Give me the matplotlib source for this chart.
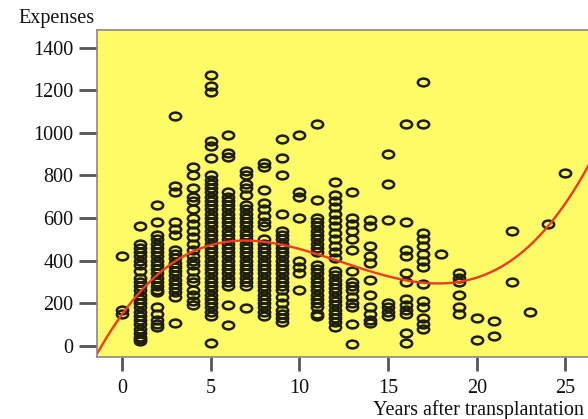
import numpy as np
import matplotlib
matplotlib.use("Agg")
import matplotlib.pyplot as plt
from matplotlib.markers import MarkerStyle
from matplotlib.transforms import Affine2D

# Expenses per year after transplantation
expenses_by_year = {
    0: [420, 170, 150],
    1: [560, 480, 460, 440, 420, 400, 380, 350, 320, 300, 280, 260, 240, 220, 200,
        180, 160, 140, 120, 100, 80, 60, 40, 30, 20],
    2: [660, 580, 520, 500, 480, 460, 440, 420, 400, 380, 360, 340, 320, 300, 280,
        260, 250, 180, 150, 120, 100, 90],
    3: [1080, 750, 720, 580, 550, 520, 450, 430, 410, 390, 370, 350, 330, 310, 290,
        270, 250, 230, 105],
    4: [840, 800, 740, 700, 680, 640, 600, 570, 540, 510, 480, 450, 420, 400, 380,
        350, 320, 300, 260, 240, 210, 190],
    5: [1270, 1220, 1190, 960, 940, 880, 800, 780, 760, 740, 720, 700, 680, 660, 640,
        620, 600, 580, 560, 540, 520, 500, 480, 460, 440, 420, 400, 380, 360, 340,
        320, 300, 280, 260, 240, 220, 200, 180, 160, 140, 15],
    6: [990, 905, 885, 720, 700, 680, 660, 640, 620, 600, 580, 560, 540, 520, 500,
        480, 460, 440, 420, 400, 380, 360, 340, 320, 300, 280, 190, 95],
    7: [820, 800, 760, 740, 710, 660, 640, 620, 600, 580, 560, 540, 520, 500, 480,
        460, 440, 420, 400, 380, 360, 340, 320, 300, 280, 175],
    8: [860, 840, 730, 670, 640, 610, 580, 560, 500, 480, 460, 440, 420, 400, 380,
        360, 340, 320, 300, 280, 260, 240, 220, 200, 180, 160, 140],
    9: [970, 880, 800, 620, 540, 520, 500, 480, 460, 440, 420, 400, 380, 360, 340,
        320, 300, 280, 260, 230, 200, 170, 150, 130, 110],
    10: [990, 720, 700, 600, 400, 370, 340, 260],
    11: [1040, 685, 600, 580, 560, 540, 520, 500, 480, 460, 440, 380, 360, 340, 320,
         300, 280, 260, 240, 220, 200, 180, 150, 140],
    12: [770, 710, 680, 650, 620, 590, 560, 530, 500, 470, 440, 410, 350, 330, 310,
         290, 270, 250, 230, 210, 190, 170, 150, 130, 110, 90],
    13: [720, 600, 570, 540, 500, 450, 350, 300, 280, 260, 230, 200, 180, 100, 10],
    14: [590, 560, 470, 420, 390, 310, 240, 180, 150, 120, 105],
    15: [900, 760, 590, 200, 180, 160, 140],
    16: [1040, 580, 450, 420, 340, 300, 220, 190, 170, 150, 60, 15],
    17: [1240, 1040, 530, 500, 470, 430, 400, 370, 290, 210, 180, 130, 100, 80],
    18: [430],
    19: [340, 320, 300, 240, 180, 150],
    20: [130, 25],
    21: [115, 45],
    22: [540, 300],
    23: [160],
    24: [570],
    25: [810],
}

# Points along the red fitted curve
curve_x = [-1.4, 0.1, 1.0, 2.4, 4.25, 5.9, 7.5, 9.0, 10.9, 12.6, 16.2, 17.0, 18.0, 19.1, 21.0, 24.0, 26.34]
curve_y = [-44, 160, 262, 356, 450, 482, 496, 473, 430, 388, 318, 294, 294, 294, 343, 572, 849]

x_ticks = [0, 5, 10, 15, 20, 25]
y_ticks = [0, 200, 400, 600, 800, 1000, 1200, 1400]

years = np.concatenate([[k] * len(v) for k, v in expenses_by_year.items()])
values = np.concatenate([v for v in expenses_by_year.values()])

fig = plt.figure(figsize=(5.88, 4.19), dpi=100)
ax = fig.add_axes([97 / 588, 1 - 357 / 419, 1 - 97 / 588 + 0.002, (357 - 30) / 419])
ax.set_facecolor("#fdfb66")
fig.patch.set_facecolor("white")

ell = MarkerStyle("o", fillstyle="none", transform=Affine2D().scale(1.45, 1.0))
ax.plot(years, values, linestyle="none", marker=ell, markersize=5.6,
        markeredgewidth=1.8, markeredgecolor="#1e1e10", color="#1e1e10")

coef = np.polyfit(curve_x, curve_y, 3)
xs = np.linspace(-1.4, 26.4, 300)
ax.plot(xs, np.polyval(coef, xs), color="#f53a22", linewidth=1.7)

ax.set_xlim(-1.4, 26.34)
ax.set_ylim(-53, 1483)
ax.set_xticks(x_ticks)
ax.set_yticks(y_ticks)

serif = ["Liberation Serif", "DejaVu Serif"]
for lab in ax.get_xticklabels() + ax.get_yticklabels():
    lab.set_family(serif)
    lab.set_fontsize(14.5)
    lab.set_color("#111111")
ax.tick_params(axis="y", length=13, width=2, color="#555555", pad=4)
ax.tick_params(axis="x", length=10, width=2, color="#555555", pad=6)
for sp in ax.spines.values():
    sp.set_color("#888888")
    sp.set_linewidth(1.2)

fig.text(18 / 588, 1 - 19 / 419, "Expenses", family=serif, fontsize=14.5,
         va="center", ha="left", color="#111111")
fig.text(373 / 588, 1 - 410 / 419, "Years after transplantation", family=serif,
         fontsize=14.5, va="center", ha="left", color="#111111")

fig.savefig("out.png", dpi=100)
